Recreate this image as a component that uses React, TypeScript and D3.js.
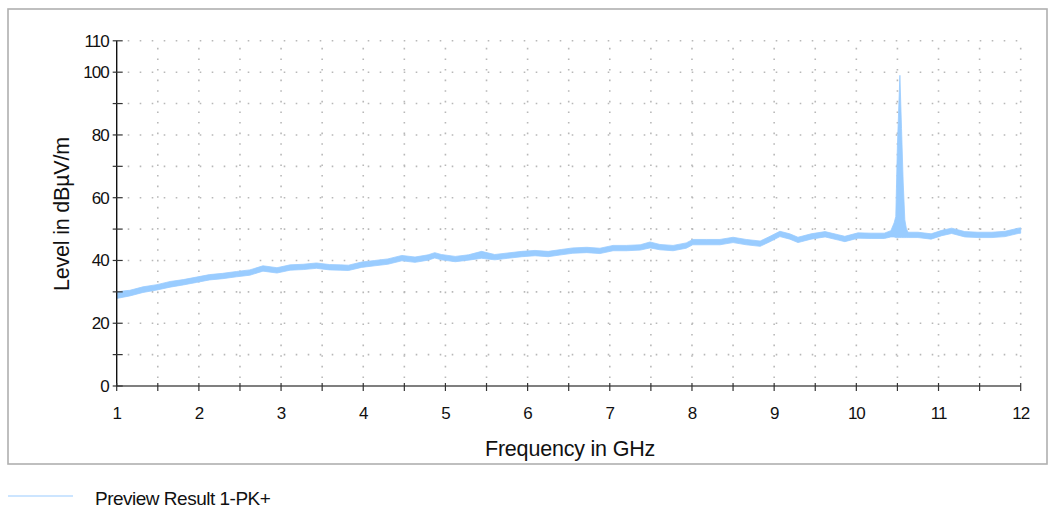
import React from 'react';
import * as d3 from 'd3';

const freqGHz = [1.00,1.08,1.16,1.32,1.49,1.65,1.81,1.97,2.13,2.29,2.46,2.62,2.78,2.95,3.11,3.27,3.43,3.59,3.72,3.82,3.98,4.14,4.30,4.47,4.63,4.79,4.87,4.95,5.12,5.28,5.44,5.60,5.76,5.93,6.09,6.25,6.41,6.55,6.72,6.88,7.04,7.20,7.37,7.49,7.61,7.77,7.93,8.01,8.18,8.34,8.50,8.66,8.83,8.95,9.07,9.19,9.29,9.45,9.62,9.78,9.86,10.02,10.18,10.34,10.42,10.46,10.48,10.50,10.53,10.55,10.57,10.59,10.61,10.63,10.75,10.91,11.04,11.16,11.32,11.48,11.65,11.81,11.97,12.00];
const levelLow = [27.9,28.3,28.7,29.8,30.6,31.5,32.2,33.0,33.8,34.2,34.8,35.3,36.6,36.0,36.9,37.1,37.5,37.0,36.9,36.8,37.8,38.3,38.8,39.9,39.4,40.1,40.8,40.2,39.6,40.1,40.7,40.2,40.7,41.2,41.5,41.2,41.8,42.3,42.5,42.2,43.1,43.1,43.3,44.0,43.4,43.1,43.9,45.0,45.0,45.0,45.7,45.0,44.5,46.0,47.6,46.8,45.7,46.8,47.5,46.5,46.0,47.1,47.0,47.0,47.5,47.5,47.3,47.3,47.3,47.3,47.3,47.3,47.3,47.3,47.3,46.8,47.9,48.6,47.5,47.3,47.3,47.6,48.6,48.7];
const levelHigh = [29.9,30.3,30.5,31.6,32.3,33.3,33.9,34.7,35.5,35.9,36.5,37.0,38.3,37.7,38.6,38.8,39.2,38.7,38.6,38.5,39.5,40.0,40.5,41.6,41.1,41.8,42.5,41.9,41.3,41.8,42.9,41.9,42.4,42.9,43.2,42.9,43.5,44.0,44.2,43.9,44.8,44.8,45.0,45.9,45.1,44.8,45.6,46.7,46.7,46.7,47.4,46.7,46.2,47.7,49.3,48.5,47.4,48.5,49.2,48.2,47.7,48.8,48.7,48.7,49.5,52.0,54.0,77.0,99.0,82.0,65.0,53.0,50.0,49.0,49.0,48.5,49.6,50.3,49.2,49.0,49.0,49.3,50.3,50.4];

const xMajorTicks = [1,2,3,4,5,6,7,8,9,10,11,12];
const xMinorTicks = [1.5,2.5,3.5,4.5,5.5,6.5,7.5,8.5,9.5,10.5,11.5];
const xGridLines = [1.5,2,2.5,3,3.5,4,4.5,5,5.5,6,6.5,7,7.5,8,8.5,9,9.5,10,10.5,11,11.5,12];
const yLabeledTicks = [0,20,40,60,80,100,110];
const yMinorTicks = [10,30,50,70,90];
const yGridLines = [10,20,30,40,50,60,70,80,90,100,110];

const xTitle = 'Frequency in GHz';
const yTitle = 'Level in dBµV/m';
const seriesName = 'Preview Result 1-PK+';

const FONT = '"Liberation Sans", Arial, Helvetica, sans-serif';
const TRACE = '#99ccff';

export default function App() {
  const x = d3.scaleLinear().domain([1, 12]).range([116.7, 1020.7]);
  const y = d3.scaleLinear().domain([0, 110]).range([386, 40.8]);
  const idx = freqGHz.map((_, i) => i);
  const area = d3.area<number>()
    .x((i) => x(freqGHz[i]))
    .y0((i) => y(levelLow[i]))
    .y1((i) => y(levelHigh[i]));
  const x0 = x(1), x1 = x(12), yb = y(0), yt = y(110);

  return (
    <svg width={1050} height={508} style={{ position: 'absolute', left: 0, top: 0, background: '#fff' }} fontFamily={FONT}>
      <rect x={8} y={9} width={1039} height={455} fill="#fff" stroke="#b0b0b0" strokeWidth={1.6} />
      <g stroke="#b8b8b8" strokeWidth={1.6} strokeDasharray="1.6 10.4">
        {yGridLines.map((v) => (
          <line key={'gy' + v} x1={x0 + 11} x2={x1} y1={y(v)} y2={y(v)} />
        ))}
        {xGridLines.map((v) => (
          <line key={'gx' + v} x1={x(v)} x2={x(v)} y1={yb - 8} y2={yt} strokeDasharray="1.6 9" />
        ))}
      </g>
      <path d={area(idx) || ''} fill={TRACE} stroke={TRACE} strokeWidth={0.8} />
      <line x1={x0} x2={x1} y1={yb} y2={yb} stroke="#555" strokeWidth={1.4} />
      <line x1={x0} x2={x0} y1={yt} y2={yb} stroke="#111" strokeWidth={1.4} />
      <g stroke="#333" strokeWidth={1.2}>
        {xMajorTicks.concat(xMinorTicks).map((v) => (
          <line key={'xt' + v} x1={x(v)} x2={x(v)} y1={yb - 3} y2={yb + 5} />
        ))}
        {yLabeledTicks.concat(yMinorTicks).map((v) => (
          <line key={'yt' + v} x1={x0 - 4} x2={x0 + 6} y1={y(v)} y2={y(v)} />
        ))}
      </g>
      <g fontSize={17} fill="#111" letterSpacing={-1}>
        {xMajorTicks.map((v) => (
          <text key={'xl' + v} x={x(v)} y={419} textAnchor="middle">{v}</text>
        ))}
        {yLabeledTicks.map((v) => (
          <text key={'yl' + v} x={x0 - 8} y={y(v) + 6} textAnchor="end">{v}</text>
        ))}
      </g>
      <text x={570} y={456} textAnchor="middle" fontSize={21.5} fill="#111" letterSpacing={-0.2}>{xTitle}</text>
      <text transform={`translate(69,214) rotate(-90)`} textAnchor="middle" fontSize={21.5} fill="#111" letterSpacing={-0.2}>{yTitle}</text>
      <line x1={8} x2={73} y1={496} y2={496} stroke={TRACE} strokeWidth={1.2} />
      <text x={95} y={505} fontSize={19} fill="#111" letterSpacing={-0.5}>{seriesName}</text>
    </svg>
  );
}
